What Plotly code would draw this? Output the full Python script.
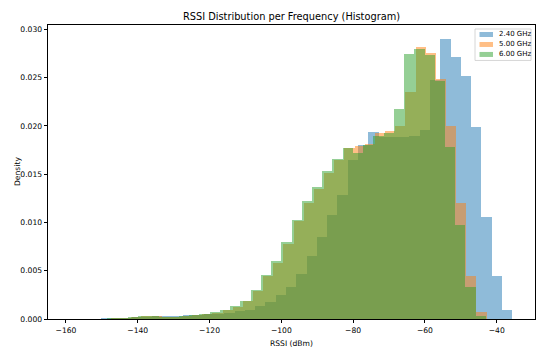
import numpy as np
import plotly.graph_objects as go

# ---- data: histogram densities per frequency (bin ranges in dBm) ----
labels = ["2.40 GHz", "5.00 GHz", "6.00 GHz"]

blue_range = (-158.9, -35.65)
blue_density = [0.00005, 0.0, 0.00005, 0.0001, 0.0001, 0.00015, 0.0002, 0.0002, 0.0003, 0.0003,
                0.0003, 0.0004, 0.0004, 0.0005, 0.00047, 0.00062, 0.00078, 0.00098, 0.0013, 0.00176,
                0.00248, 0.0033, 0.0047, 0.0065, 0.0085, 0.01077, 0.01284, 0.0165, 0.0180, 0.0194,
                0.0188, 0.0188, 0.0189, 0.0190, 0.0196, 0.0248, 0.0290, 0.0271, 0.0252, 0.0199,
                0.0106, 0.00445, 0.00093]

orange_range = (-156.0, -42.8)
orange_density = [0.00002, 0.00005, 0.00005, 0.0001, 0.0001, 0.0002, 0.0003, 0.0003, 0.0002, 0.00025,
                  0.0003, 0.0004, 0.0005, 0.00065, 0.00093, 0.00127, 0.00186, 0.0029, 0.00445, 0.0058,
                  0.0078, 0.0101, 0.0120, 0.0135, 0.0151, 0.0165, 0.0177, 0.0179, 0.0181, 0.0193,
                  0.0195, 0.0200, 0.0235, 0.0282, 0.0275, 0.0249, 0.0200, 0.0120, 0.00445, 0.00076]

green_range = (-157.0, -43.0)
green_density = [0.00002, 0.00005, 0.00005, 0.0001, 0.0001, 0.0002, 0.0003, 0.0003, 0.0002, 0.00025,
                 0.0003, 0.0004, 0.0005, 0.0007, 0.00095, 0.0013, 0.0019, 0.0030, 0.0046, 0.0060,
                 0.0080, 0.0103, 0.0122, 0.0137, 0.0153, 0.0166, 0.0177, 0.0172, 0.0180, 0.0190,
                 0.0193, 0.0218, 0.0274, 0.0280, 0.0273, 0.0247, 0.0178, 0.0097, 0.0033, 0.0003]

x_ticks = [-160, -140, -120, -100, -80, -60, -40]
y_ticks = [0.000, 0.005, 0.010, 0.015, 0.020, 0.025, 0.030]

colors = ["rgba(31,119,180,0.5)", "rgba(255,127,14,0.5)", "rgba(44,160,44,0.5)"]

W, H = 550, 355
ML, MR, MT, MB = 48, 15, 25, 35.5
PW, PH = W - ML - MR, H - MT - MB


def px2paper(px, py):
    return (px - ML) / PW, (H - MB - py) / PH


fig = go.Figure()
for lab, rng, dens, col in zip(labels,
                               [blue_range, orange_range, green_range],
                               [blue_density, orange_density, green_density],
                               colors):
    edges = np.linspace(rng[0], rng[1], len(dens) + 1)
    fig.add_trace(go.Bar(
        x=edges[:-1], y=dens, width=np.diff(edges), offset=0,
        marker=dict(color=col, line=dict(width=0)),
        name=lab, showlegend=False,
    ))

FONT = "DejaVu Sans"
fig.update_layout(
    width=W, height=H,
    barmode="overlay", bargap=0,
    paper_bgcolor="white", plot_bgcolor="white",
    margin=dict(l=ML, r=MR, t=MT, b=MB),
    font=dict(family=FONT, size=8, color="#000"),
    title=dict(text="RSSI Distribution per Frequency (Histogram)",
               x=0.5, xref="paper", xanchor="center",
               y=1 - 17 / H, yref="container", yanchor="middle",
               font=dict(family=FONT, size=9.8, color="#000")),
    showlegend=False,
)
fig.update_xaxes(
    range=[-165.0, -29.33], tickmode="array", tickvals=x_ticks,
    ticktext=[("\u2212" + str(abs(v))) if v < 0 else str(v) for v in x_ticks],
    ticks="outside", ticklen=3.5, tickwidth=0.8, tickcolor="#000",
    showline=True, linecolor="#000", linewidth=0.8, mirror=True,
    showgrid=False, zeroline=False,
    tickfont=dict(family=FONT, size=7.6, color="#000"),
)
fig.update_yaxes(
    range=[0, 0.03045], tickmode="array", tickvals=y_ticks,
    ticktext=[f"{v:.3f}" for v in y_ticks],
    ticks="outside", ticklen=3.5, tickwidth=0.8, tickcolor="#000",
    showline=True, linecolor="#000", linewidth=0.8, mirror=True,
    showgrid=False, zeroline=False,
    tickfont=dict(family=FONT, size=7.6, color="#000"),
)

# axis titles
xl = px2paper(292, 344)
fig.add_annotation(text="RSSI (dBm)", xref="paper", yref="paper", x=0.5, y=xl[1],
                   xanchor="center", yanchor="middle", showarrow=False,
                   font=dict(family=FONT, size=7.6, color="#000"))
yl = px2paper(17, 172)
fig.add_annotation(text="Density", xref="paper", yref="paper", x=yl[0], y=0.5,
                   xanchor="center", yanchor="middle", showarrow=False, textangle=-90,
                   font=dict(family=FONT, size=7.6, color="#000"))

# legend box (matplotlib style)
bx0, by0 = px2paper(475, 60.5)
bx1, by1 = px2paper(531, 29)
fig.add_shape(type="rect", xref="paper", yref="paper", x0=bx0, y0=by0, x1=bx1, y1=by1,
              line=dict(color="#cccccc", width=0.8), fillcolor="rgba(255,255,255,0.8)",
              layer="above")
for i, (lab, col) in enumerate(zip(labels, colors)):
    cy = 34.5 + 10 * i
    sx0, sy0 = px2paper(479.5, cy + 2.5)
    sx1, sy1 = px2paper(493, cy - 2.5)
    fig.add_shape(type="rect", xref="paper", yref="paper", x0=sx0, y0=sy0, x1=sx1, y1=sy1,
                  line=dict(width=0), fillcolor=col, layer="above")
    tx, ty = px2paper(497, cy)
    fig.add_annotation(text=lab, xref="paper", yref="paper", x=tx, y=ty,
                       xanchor="left", yanchor="middle", showarrow=False,
                       font=dict(family=FONT, size=7.0, color="#000"))

fig.write_html("out.html", config={"displayModeBar": False},
               post_script="document.body.style.margin='0';")
